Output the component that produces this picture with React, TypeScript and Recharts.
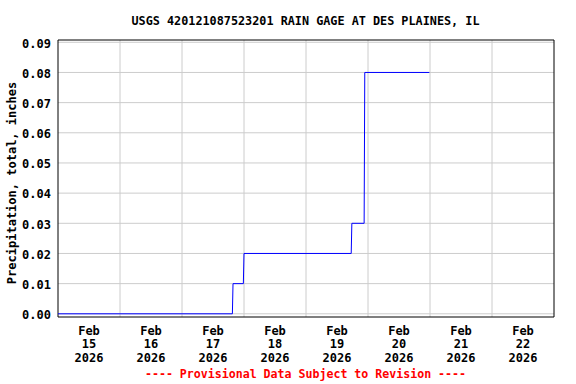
import React from 'react';
import { LineChart, Line, XAxis, YAxis, CartesianGrid, ReferenceArea } from 'recharts';

// hours since Feb 15 2026 00:00
const hours = [0, 67.5, 67.75, 71.75, 72, 113.5, 113.75, 118.5, 118.75, 143.75];
const precip = [0, 0, 0.01, 0.01, 0.02, 0.02, 0.03, 0.03, 0.08, 0.08];

const tickHours = [12, 36, 60, 84, 108, 132, 156, 180];
const tickMonths = ['Feb', 'Feb', 'Feb', 'Feb', 'Feb', 'Feb', 'Feb', 'Feb'];
const tickDays = ['15', '16', '17', '18', '19', '20', '21', '22'];
const tickYears = ['2026', '2026', '2026', '2026', '2026', '2026', '2026', '2026'];
const gridHours = [24, 48, 72, 96, 120, 144, 168];
const yTicks = [0, 0.01, 0.02, 0.03, 0.04, 0.05, 0.06, 0.07, 0.08, 0.09];

const xDomain = [0, 192];
const yDomain = [-0.00106, 0.09076];

const title = 'USGS 420121087523201 RAIN GAGE AT DES PLAINES, IL';
const yLabel = 'Precipitation, total, inches';
const footer = '---- Provisional Data Subject to Revision ----';

const data = hours.map((h, i) => ({ h, p: precip[i] }));

const FONT = '"DejaVu Sans Mono", monospace';

const XTick = (props: any) => {
  const { x, y, payload } = props;
  const i = tickHours.indexOf(payload.value);
  return (
    <text x={x} y={y} textAnchor="middle" fontFamily={FONT} fontSize={12} fontWeight="bold" fill="#000">
      <tspan x={x} dy={10}>{tickMonths[i]}</tspan>
      <tspan x={x} dy={13.3}>{tickDays[i]}</tspan>
      <tspan x={x} dy={13.3}>{tickYears[i]}</tspan>
    </text>
  );
};

export default function App() {
  return (
    <div style={{ position: 'absolute', left: 0, top: 0, width: 576, height: 384, background: '#fff' }}>
      <LineChart
        width={576}
        height={384}
        data={data}
        margin={{ top: 40, right: 22, bottom: 12, left: 0 }}
      >
        <CartesianGrid
          stroke="#cccccc"
          verticalValues={gridHours}
          horizontalValues={yTicks}
        />
        <XAxis
          dataKey="h"
          type="number"
          domain={xDomain}
          ticks={tickHours}
          tick={<XTick />}
          tickLine={false}
          axisLine={false}
          height={55}
          interval={0}
          allowDataOverflow
        />
        <YAxis
          type="number"
          domain={yDomain}
          ticks={yTicks}
          tickFormatter={(v: number) => v.toFixed(2)}
          tick={{ fontFamily: FONT, fontSize: 12, fontWeight: 'bold', fill: '#000', dx: 1, dy: 1 }}
          tickLine={false}
          axisLine={false}
          width={58}
          interval={0}
          allowDataOverflow
        />
        <Line
          type="linear"
          dataKey="p"
          stroke="#0000ff"
          strokeWidth={1}
          dot={false}
          activeDot={false}
          isAnimationActive={false}
        />
        <ReferenceArea
          x1={xDomain[0]}
          x2={xDomain[1]}
          y1={yDomain[0]}
          y2={yDomain[1]}
          fill="none"
          stroke="#000"
          strokeWidth={1}
          fillOpacity={0}
        />
      </LineChart>
      <svg width={576} height={384} style={{ position: 'absolute', left: 0, top: 0, pointerEvents: 'none' }}>
        <text x={305.5} y={25} textAnchor="middle" fontFamily={FONT} fontSize={11.8} fontWeight="bold" fill="#000">
          {title}
        </text>
        <text
          x={12}
          y={183}
          transform="rotate(-90, 12, 183)"
          textAnchor="middle"
          dominantBaseline="central"
          fontFamily={FONT}
          fontSize={12}
          fontWeight="bold"
          fill="#000"
        >
          {yLabel}
        </text>
        <text x={305.5} y={378} textAnchor="middle" fontFamily={FONT} fontSize={11.6} fontWeight="bold" fill="#ff0000">
          {footer}
        </text>
      </svg>
    </div>
  );
}
